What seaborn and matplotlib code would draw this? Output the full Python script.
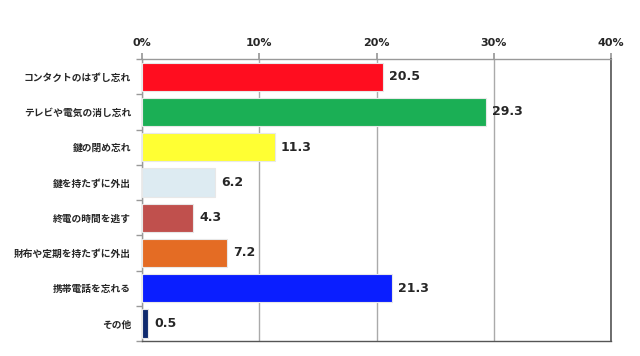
"""忘れ物の割合を横棒グラフで描く。"""

import matplotlib.pyplot as plt
import pandas as pd
import seaborn as sns

categories = [
    "コンタクトのはずし忘れ",
    "テレビや電気の消し忘れ",
    "鍵の閉め忘れ",
    "鍵を持たずに外出",
    "終電の時間を逃す",
    "財布や定期を持たずに外出",
    "携帯電話を忘れる",
    "その他",
]
values = [20.5, 29.3, 11.3, 6.2, 4.3, 7.2, 21.3, 0.5]
bar_colors = ["#FF0D1F", "#1BAF55", "#FFFF33", "#DDEBF2",
              "#C0504D", "#E46C24", "#0A1EFF", "#0F2A6E"]
x_ticks = [0, 10, 20, 30, 40]
x_tick_labels = ["0%", "10%", "20%", "30%", "40%"]

df = pd.DataFrame({"item": categories, "pct": values})

sns.set_theme(style="white")
plt.rcParams["font.family"] = ["Noto Sans CJK JP", "DejaVu Sans"]

fig = plt.figure(figsize=(6.4, 3.56), dpi=100)
ax = fig.add_axes([0.222, 0.042, 0.733, 0.792])

sns.barplot(data=df, x="pct", y="item", hue="item", palette=bar_colors,
            legend=False, width=0.8, edgecolor="#e8e8e8", linewidth=0.8,
            saturation=1, ax=ax, zorder=3)

ax.set_xlim(0, 40)
ax.set_ylim(len(categories) - 0.5, -0.5)
ax.set_xticks(x_ticks)
ax.set_xticklabels(x_tick_labels, fontsize=8, fontweight="bold",
                   family="DejaVu Sans")
ax.xaxis.tick_top()
ax.tick_params(axis="x", length=4, color="#999999", pad=4, top=True, bottom=False)
ax.set_yticks([i - 0.5 for i in range(len(categories) + 1)], minor=True)
ax.tick_params(axis="y", which="minor", length=4, color="#999999", left=True)
ax.tick_params(axis="y", which="major", length=0, pad=8)
for lbl in ax.get_yticklabels():
    lbl.set_fontsize(7)
    lbl.set_fontweight("bold")
ax.set_xlabel("")
ax.set_ylabel("")
ax.grid(axis="x", color="#aaaaaa", linewidth=1, zorder=0)

for side in ["top", "left", "bottom"]:
    ax.spines[side].set_color("#999999")
    ax.spines[side].set_linewidth(1)
ax.spines["right"].set_color("#555555")
ax.spines["right"].set_linewidth(1.2)
ax.spines["bottom"].set_color("#555555")

# подписи значений справа от столбцов
for i, v in enumerate(values):
    ax.text(v + 0.55, i, f"{v:.1f}", va="center", ha="left",
            fontsize=9, fontweight="bold", family="DejaVu Sans", zorder=4)

fig.savefig("out.png", dpi=100)
plt.close(fig)
